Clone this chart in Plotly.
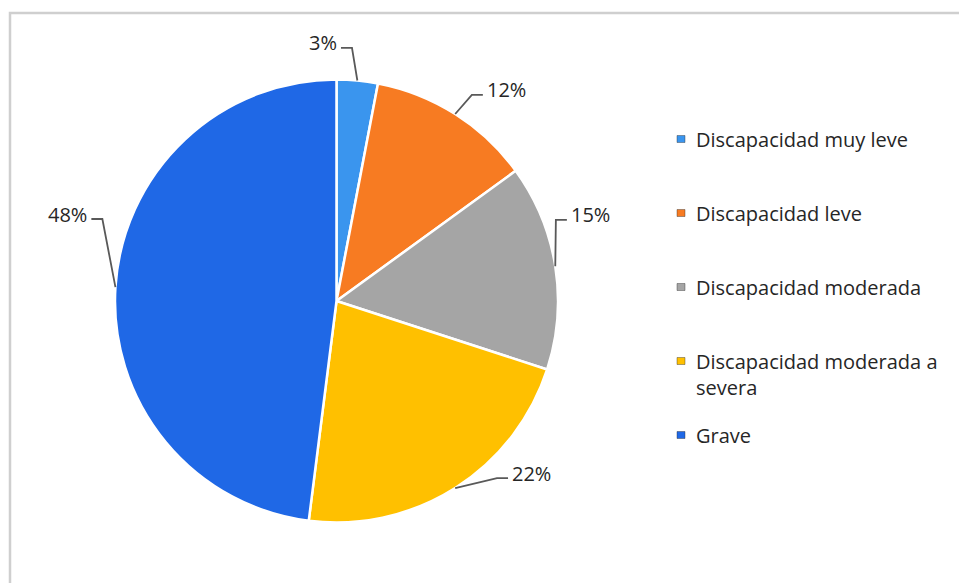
import math
import plotly.graph_objects as go

# ---- data ----
categories = ["Discapacidad muy leve", "Discapacidad leve", "Discapacidad moderada",
              "Discapacidad moderada a severa", "Grave"]
values = [3, 12, 15, 22, 48]
legend_labels = ["Discapacidad muy leve", "Discapacidad leve", "Discapacidad moderada",
                 "Discapacidad moderada a<br>severa", "Grave"]

# ---- style / layout ----
W, H = 959, 583
CX, CY, R = 336.5, 301.0, 221.5
colors = ["#3a95ee", "#f77b22", "#a5a5a5", "#ffc000", "#1f68e6"]
FONT = "Open Sans"
FS = 20
TXT = "#262626"
# label placement (Excel "best fit" style): elbow polar position
# (deg from 12 o'clock, radius factor) and side of the horizontal tick
elbow_polar = [(3.5, 1.145), (33.3, 1.113), (69.7, 1.056), (137.8, 1.079), (289.3, 1.12)]
label_side = ["left", "right", "right", "right", "left"]
HSEG = 11

def px(x):
    return x / W

def py(y):
    return 1 - y / H

def polar(deg, r):
    a = math.radians(deg)
    return CX + r * math.sin(a), CY - r * math.cos(a)

fig = go.Figure()
fig.add_trace(go.Pie(
    labels=categories, values=values, sort=False, direction="clockwise", rotation=0,
    marker=dict(colors=colors, line=dict(color="white", width=2.5)),
    textinfo="none", hoverinfo="label+percent", showlegend=False,
    domain=dict(x=[px(CX - R), px(CX + R)], y=[py(CY + R), py(CY - R)]),
))

shapes = []
annotations = []
total = sum(values)
cum = 0
for i, v in enumerate(values):
    mid = (cum + v / 2) / total * 360
    cum += v
    sx, sy = polar(mid, R)
    edeg, efac = elbow_polar[i]
    ex, ey = polar(edeg, R * efac)
    right = label_side[i] == "right"
    hx = ex + (HSEG if right else -HSEG)
    path = f"M {px(sx)},{py(sy)} L {px(ex)},{py(ey)} L {px(hx)},{py(ey)}"
    shapes.append(dict(type="path", xref="paper", yref="paper", path=path,
                       line=dict(color="#595959", width=1.8)))
    annotations.append(dict(
        x=px(hx + (2 if right else -2)), y=py(ey - 5), xref="paper", yref="paper",
        text=f"{round(v / total * 100)}%", showarrow=False,
        xanchor="left" if right else "right", yanchor="middle",
        font=dict(family=FONT, size=FS, color=TXT)))

# manual legend (square markers, wide spacing)
LX, LY0, LSTEP = 681, 139, 74
for i, lab in enumerate(legend_labels):
    y = LY0 + LSTEP * i
    shapes.append(dict(type="rect", xref="paper", yref="paper",
                       x0=px(LX - 4), x1=px(LX + 4), y0=py(y + 3.5), y1=py(y - 3.5),
                       fillcolor=colors[i], line=dict(color="#2b2b2b", width=0.4)))
    annotations.append(dict(
        x=px(LX + 13), y=py(y - 15), xref="paper", yref="paper", text=lab,
        showarrow=False, xanchor="left", yanchor="top", align="left",
        font=dict(family=FONT, size=FS, color=TXT)))

# chart frame
shapes.append(dict(type="rect", xref="paper", yref="paper",
                   x0=px(10), x1=1.02, y0=-0.02, y1=py(13),
                   line=dict(color="#cfcfcf", width=2.5), fillcolor="rgba(0,0,0,0)"))

fig.update_layout(
    width=W, height=H, margin=dict(l=0, r=0, t=0, b=0),
    paper_bgcolor="white", plot_bgcolor="white",
    shapes=shapes, annotations=annotations, showlegend=False,
    font=dict(family=FONT),
)
fig.write_html("out.html", config={"displayModeBar": False},
               post_script="document.body.style.margin='0';")
